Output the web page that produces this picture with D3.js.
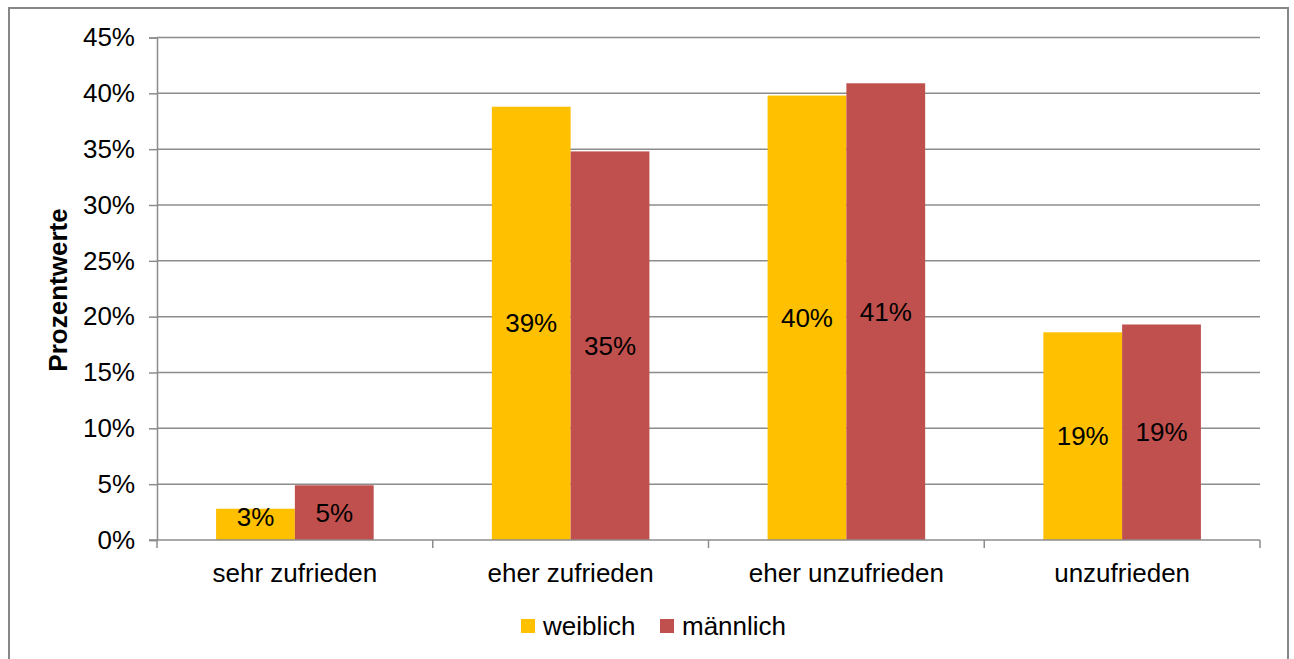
<!DOCTYPE html>
<html>
<head>
<meta charset="utf-8">
<script src="https://cdnjs.cloudflare.com/ajax/libs/d3/7.8.5/d3.min.js"></script>
<style>
  body { margin: 0; background: #fff; }
  text { font-family: "Liberation Sans", Arial, sans-serif; fill: #000; }
</style>
</head>
<body>
<script>
var width = 1294, height = 659;

var categories = ["sehr zufrieden", "eher zufrieden", "eher unzufrieden", "unzufrieden"];
var seriesNames = ["weiblich", "männlich"];
var weiblich = [2.8, 38.8, 39.8, 18.6];
var maennlich = [4.9, 34.8, 40.9, 19.3];
var labelsWeiblich = ["3%", "39%", "40%", "19%"];
var labelsMaennlich = ["5%", "35%", "41%", "19%"];
var yTicks = [0, 5, 10, 15, 20, 25, 30, 35, 40, 45];
var colors = ["#FFC000", "#C0504D"];

var rows = categories.map(function(c, i) {
    return { cat: c, values: [
        { s: 0, v: weiblich[i], label: labelsWeiblich[i] },
        { s: 1, v: maennlich[i], label: labelsMaennlich[i] }
    ]};
});

var svg = d3.select("body").append("svg").attr("width", width).attr("height", height);

// outer border
svg.append("rect").attr("x", 9).attr("y", 8).attr("width", 1279).attr("height", 670)
    .attr("fill", "#fff").attr("stroke", "#878787").attr("stroke-width", 2);

var plotLeft = 157, plotRight = 1260, plotTop = 37.5, plotBottom = 540;
var fs = "26px";
var x0 = d3.scaleBand().domain(categories).range([plotLeft, plotRight]).paddingInner(0).paddingOuter(0);
var x1 = d3.scaleBand().domain([0, 1]).range([0, x0.bandwidth()]).paddingInner(0).paddingOuter(0.75);
var y = d3.scaleLinear().domain([0, 45]).range([plotBottom, plotTop]);

var gridColor = "#8c8c8c";

// gridlines
svg.append("g").selectAll("line").data(yTicks.slice(1)).enter().append("line")
    .attr("x1", plotLeft).attr("x2", plotRight)
    .attr("y1", function(d) { return y(d); }).attr("y2", function(d) { return y(d); })
    .attr("stroke", gridColor).attr("stroke-width", 1.5);

// y axis
var yAxis = svg.append("g").attr("transform", "translate(" + plotLeft + ",0)")
    .call(d3.axisLeft(y).tickValues(yTicks).tickSize(8).tickPadding(14)
        .tickFormat(function(d) { return d + "%"; }));
yAxis.select(".domain").attr("stroke", gridColor).attr("stroke-width", 1.5);
yAxis.selectAll(".tick line").attr("stroke", gridColor).attr("stroke-width", 1.5);
yAxis.selectAll(".tick text").style("font-size", fs).style("font-family", "Liberation Sans, Arial, sans-serif").attr("fill", "#000");

// bars
var groups = svg.append("g").selectAll("g").data(rows).enter().append("g")
    .attr("transform", function(d) { return "translate(" + x0(d.cat) + ",0)"; });

groups.selectAll("rect").data(function(d) { return d.values; }).enter().append("rect")
    .attr("x", function(d) { return x1(d.s); })
    .attr("width", x1.bandwidth())
    .attr("y", function(d) { return y(d.v); })
    .attr("height", function(d) { return y(0) - y(d.v); })
    .attr("fill", function(d) { return colors[d.s]; });

groups.selectAll("text").data(function(d) { return d.values; }).enter().append("text")
    .attr("x", function(d) { return x1(d.s) + x1.bandwidth() / 2; })
    .attr("y", function(d) { return Math.min((y(d.v) + y(0)) / 2, y(0) - 23) + 9; })
    .attr("text-anchor", "middle")
    .style("font-size", fs)
    .text(function(d) { return d.label; });

// x axis
var xAxis = svg.append("g").attr("transform", "translate(0," + plotBottom + ")")
    .call(d3.axisBottom(x0).tickSize(0).tickPadding(24));
xAxis.select(".domain").remove();
xAxis.selectAll(".tick text").style("font-size", fs).style("font-family", "Liberation Sans, Arial, sans-serif").attr("fill", "#000");
svg.append("line").attr("x1", plotLeft - 8).attr("x2", plotRight).attr("y1", plotBottom).attr("y2", plotBottom)
    .attr("stroke", gridColor).attr("stroke-width", 1.5);
svg.append("g").selectAll("line").data(d3.range(categories.length + 1)).enter().append("line")
    .attr("x1", function(i) { return plotLeft + i * x0.step(); })
    .attr("x2", function(i) { return plotLeft + i * x0.step(); })
    .attr("y1", plotBottom).attr("y2", plotBottom + 8)
    .attr("stroke", gridColor).attr("stroke-width", 1.5);

// y title
svg.append("text")
    .attr("transform", "translate(67,290) rotate(-90)")
    .attr("text-anchor", "middle")
    .style("font-size", fs).style("font-weight", "bold")
    .text("Prozentwerte");

// legend
var legendX = [521, 660];
var legend = svg.append("g").selectAll("g").data(seriesNames).enter().append("g")
    .attr("transform", function(d, i) { return "translate(" + legendX[i] + ",619)"; });
legend.append("rect").attr("width", 14).attr("height", 14).attr("fill", function(d, i) { return colors[i]; });
legend.append("text").attr("x", 22).attr("y", 16).style("font-size", fs).text(function(d) { return d; });
</script>
</body>
</html>
